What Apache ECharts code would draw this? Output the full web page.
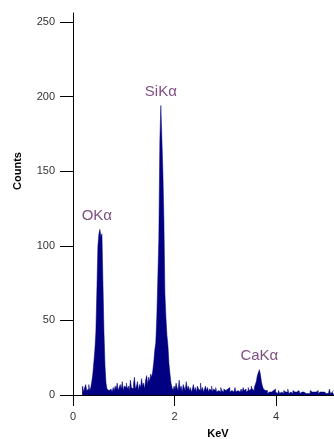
<!DOCTYPE html>
<html><head><meta charset="utf-8">
<script src="https://cdn.jsdelivr.net/npm/echarts@6/dist/echarts.min.js"></script>
<style>html,body{margin:0;padding:0;background:#fff}#c{width:334px;height:439px}</style>
</head><body><div id="c"></div>
<script>
// Spectrum channels: start energy (keV) and channel width (keV)
var channelStart = 0.18;
var channelWidth = 0.02;
// Counts per channel
var counts = [
 4,6,2,5,7,3,4,7,3,5,
 9,14,22,30,42,70,100,108,111,106,108,75,42,20,8,4,
 3,2,4,3,2,5,3,6,4,8,3,5,7,4,9,3,6,5,8,4,6,3,10,5,4,7,12,4,6,9,3,7,5,11,6,8,4,10,13,7,
 12,9,14,12,16,22,30,35,52,78,105,170,194,172,150,118,68,52,40,33,21,14,8,5,
 3,6,4,8,5,3,10,4,6,2,7,5,3,9,4,6,3,5,2,4,7,3,5,2,6,4,3,8,3,5,2,4,6,3,5,2,4,3,6,2,4,3,5,2,3,4,2,5,3,2,4,3,2,4,3,5,2,3,4,2,3,5,2,3,4,2,3,4,2,5,3,4,2,3,5,3,4,6,4,3,5,
 7,9,13,15,17,14,9,6,4,3,
 2,3,1,2,3,2,1,3,2,4,2,1,2,3,1,2,2,1,3,2,1,2,4,1,2,2,1,3,2,1,2,1,3,2,1,2,1,2,3,1,2,1,2,1,3,2,1,2,1,2,1,3,1,2,1,2,1,2,3,1,2,1,2,4,1,2,3,2
];
var xTicks = [0, 2, 4];
var yTicks = [0, 50, 100, 150, 200, 250];
var peakNames = ['OK\u03b1', 'SiK\u03b1', 'CaK\u03b1'];
var peakKeV = [0.47, 1.73, 3.67];
var peakLabelY = [120, 203, 26];

var specData = counts.map(function (v, i) { return [channelStart + i * channelWidth, v]; });
var peakData = peakNames.map(function (n, i) { return { name: n, value: [peakKeV[i], peakLabelY[i]] }; });

var chart = echarts.init(document.getElementById('c'), null, { renderer: 'canvas' });
var lblFont = 'Arial, "Liberation Sans", sans-serif';
chart.setOption({
  animation: false,
  grid: { left: 73, right: 0, top: 13, bottom: 44, containLabel: false },
  xAxis: {
    type: 'value', min: 0, max: 5.14,
    axisLine: { onZero: true, lineStyle: { color: '#000', width: 1 } },
    axisTick: { show: true, length: 11, lineStyle: { color: '#000' }, customValues: xTicks },
    axisLabel: { customValues: xTicks, margin: 16, color: '#333', fontSize: 11, fontFamily: lblFont },
    splitLine: { show: false }
  },
  yAxis: {
    type: 'value', min: 0, max: 256,
    axisLine: { show: true, lineStyle: { color: '#000', width: 1 } },
    axisTick: { show: true, length: 13, lineStyle: { color: '#000' }, customValues: yTicks },
    axisLabel: { customValues: yTicks, margin: 18, color: '#333', fontSize: 11, fontFamily: lblFont },
    splitLine: { show: false }
  },
  graphic: [
    { type: 'text', x: 18, y: 171, rotation: Math.PI / 2,
      style: { text: 'Counts', font: 'bold 11px Arial, "Liberation Sans", sans-serif', fill: '#000', textAlign: 'center', textVerticalAlign: 'middle' } },
    { type: 'text', x: 218, y: 434,
      style: { text: 'KeV', font: 'bold 11px Arial, "Liberation Sans", sans-serif', fill: '#000', textAlign: 'center', textVerticalAlign: 'middle' } }
  ],
  series: [
    {
      type: 'line', data: specData, step: 'middle', symbol: 'none',
      lineStyle: { color: '#000080', width: 0.5 },
      areaStyle: { color: '#000080', opacity: 1 },
      itemStyle: { color: '#000080' }, silent: true, z: 2
    },
    {
      type: 'scatter', data: peakData, symbolSize: 0, silent: true, z: 3,
      label: { show: true, position: 'inside', formatter: '{b}', color: '#5e2360', fontSize: 15, fontFamily: lblFont }
    }
  ]
});
</script></body></html>
